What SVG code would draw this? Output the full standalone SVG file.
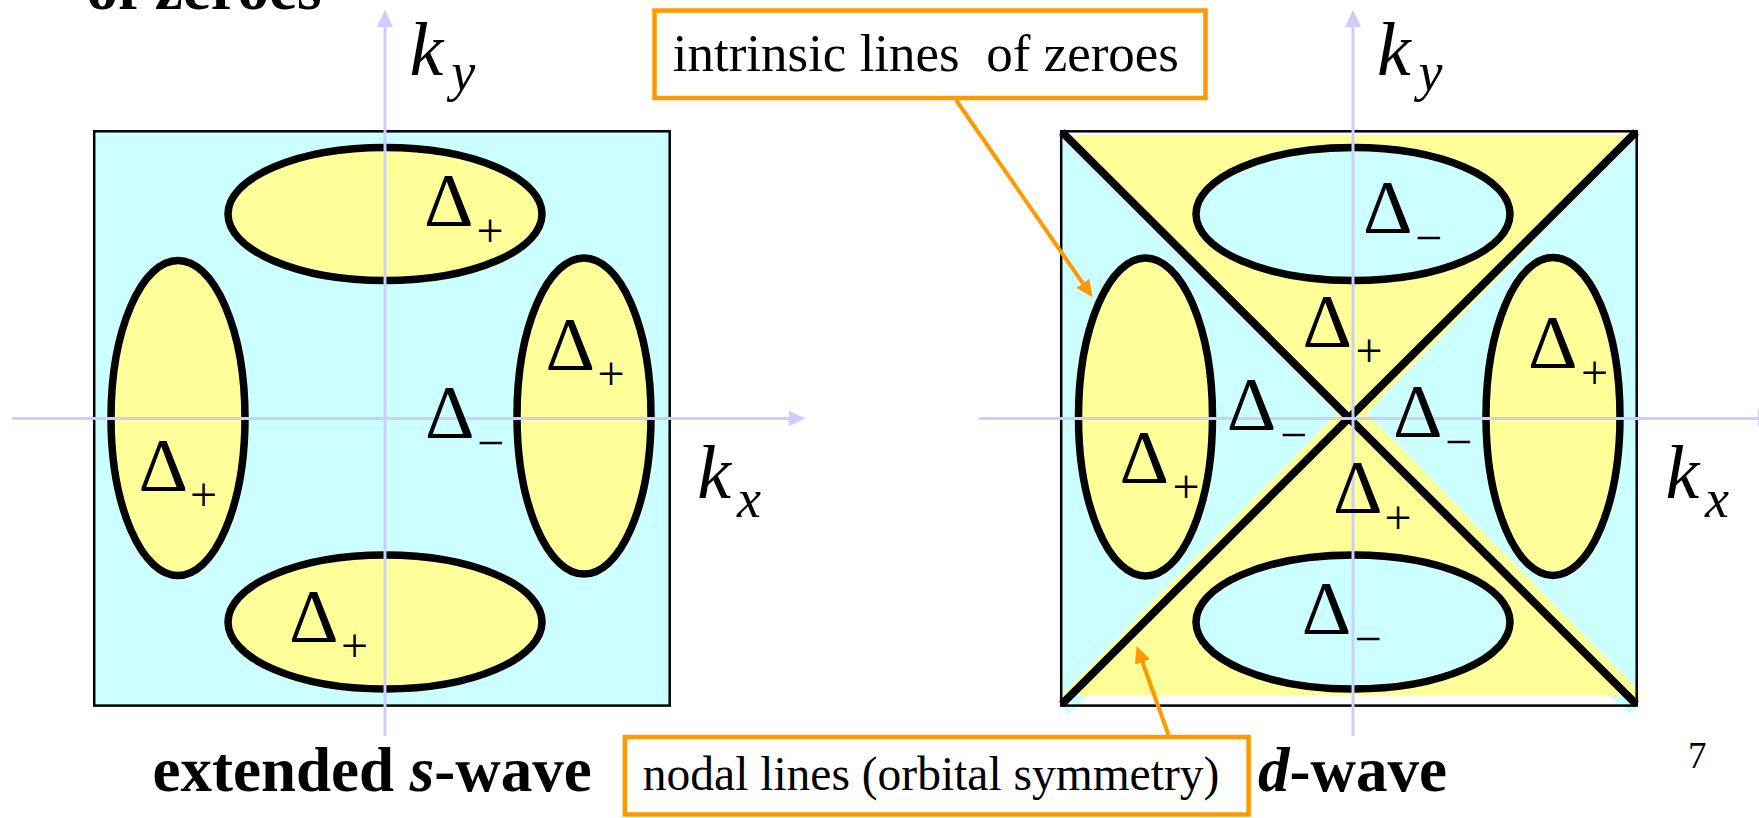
<svg xmlns="http://www.w3.org/2000/svg" width="1759" height="818" viewBox="0 0 1759 818">
<defs>
<style>
.ax{stroke:#ccccff;stroke-width:3;fill:none;marker-end:url(#la)}
.ell{stroke:#000;stroke-width:7.5}
.yl{fill:#ffff99}
.cy{fill:#ccffff}
.box{stroke:#000;stroke-width:2.5}
.diag{stroke:#000;stroke-width:8;stroke-linecap:butt}
.d{font-family:"Liberation Serif","Times New Roman",serif;font-size:77px;fill:#000}
.s{font-size:48px}
.k{font-family:"Liberation Serif","Times New Roman",serif;font-style:italic;font-size:76px;fill:#000}
.ks{font-size:54px}
.call{fill:#fff;stroke:#ff9900;stroke-width:4.5}
.ct{font-family:"Liberation Serif","Times New Roman",serif;fill:#000;white-space:pre}
.cl{stroke:#ff9900;stroke-width:4;fill:none;marker-end:url(#oa)}
.bt{font-family:"Liberation Serif","Times New Roman",serif;font-weight:bold;font-size:63px;fill:#000}
</style>
<marker id="la" markerUnits="userSpaceOnUse" markerWidth="18" markerHeight="16" refX="9" refY="8" orient="auto"><path d="M0,0 L17,8 L0,16 z" fill="#ccccff"/></marker>
<marker id="oa" markerUnits="userSpaceOnUse" markerWidth="18" markerHeight="16" refX="8" refY="8" orient="auto"><path d="M0,0 L17,8 L0,16 z" fill="#ff9900"/></marker>
</defs>
<rect width="1759" height="818" fill="#fff"/>

<text class="bt" x="86.5" y="9">of zeroes</text>

<g id="left-panel">
<rect class="box cy" x="94.2" y="131.3" width="575.5" height="574.3"/>
<ellipse class="ell yl" cx="385" cy="214" rx="157" ry="66.5"/>
<ellipse class="ell yl" cx="385" cy="622" rx="157" ry="67"/>
<ellipse class="ell yl" cx="178" cy="418" rx="67" ry="157.5"/>
<ellipse class="ell yl" cx="584" cy="416" rx="67" ry="158"/>
<line class="ax" x1="385" y1="736" x2="385" y2="18"/>
<line class="ax" x1="12" y1="418.4" x2="797.5" y2="418.4"/>
<text class="d" x="424" y="226">Δ<tspan class="s" x="476.5" y="247">+</tspan></text>
<text class="d" x="545.5" y="369.5">Δ<tspan class="s" x="597.5" y="390">+</tspan></text>
<text class="d" x="425" y="438">Δ<tspan class="s" x="477" y="459">−</tspan></text>
<text class="d" x="138.6" y="490.6">Δ<tspan class="s" x="190" y="511">+</tspan></text>
<text class="d" x="289" y="642">Δ<tspan class="s" x="341" y="662">+</tspan></text>
<text class="k" x="409.5" y="75">k<tspan class="ks" x="451.3" y="90">y</tspan></text>
<text class="k" x="697.2" y="498">k<tspan class="ks" x="737" y="517">x</tspan></text>
<text class="bt" x="152.5" y="791">extended <tspan font-style="italic">s</tspan>-wave</text>
</g>

<g id="right-panel">
<polygon class="cy" points="1061,131 1350,418 1079,705 1067,715 1061,706"/>
<polygon class="cy" points="1637,131 1350,418 1619,705 1630,714 1637,706"/>
<polygon class="yl" points="1062,135 1637,135 1352,428"/>
<polygon class="yl" points="1352,398 1643,695 1062,695"/>
<rect class="box" x="1061.2" y="131.3" width="575.5" height="574.3" fill="none"/>
<line class="diag" x1="1062" y1="132" x2="1636" y2="704"/>
<line class="diag" x1="1636" y1="132" x2="1062" y2="704"/>
<ellipse class="ell cy" cx="1353" cy="214" rx="157" ry="66.5"/>
<ellipse class="ell cy" cx="1353" cy="622" rx="157" ry="67"/>
<ellipse class="ell yl" cx="1145.5" cy="417" rx="67" ry="159"/>
<ellipse class="ell yl" cx="1553" cy="416.5" rx="67" ry="159"/>
<line class="ax" x1="1353" y1="736" x2="1353" y2="18"/>
<line class="ax" x1="979" y1="418.4" x2="1767" y2="418.4"/>
<text class="d" x="1363" y="233">Δ<tspan class="s" x="1415" y="254">−</tspan></text>
<text class="d" x="1302.6" y="347">Δ<tspan class="s" x="1355.5" y="367">+</tspan></text>
<text class="d" x="1528" y="368">Δ<tspan class="s" x="1581" y="389">+</tspan></text>
<text class="d" x="1226.7" y="430">Δ<tspan class="s" x="1280" y="451">−</tspan></text>
<text class="d" x="1393" y="437">Δ<tspan class="s" x="1445" y="458">−</tspan></text>
<text class="d" x="1119.5" y="483">Δ<tspan class="s" x="1172.6" y="503">+</tspan></text>
<text class="d" x="1333" y="513.3">Δ<tspan class="s" x="1384.6" y="534">+</tspan></text>
<text class="d" x="1301.7" y="634">Δ<tspan class="s" x="1354.5" y="655">−</tspan></text>
<text class="k" x="1377" y="75">k<tspan class="ks" x="1418.6" y="90">y</tspan></text>
<text class="k" x="1665.5" y="498">k<tspan class="ks" x="1705" y="517">x</tspan></text>
<text class="bt" x="1258" y="791"><tspan font-style="italic">d</tspan>-wave</text>
</g>

<g id="callout-intrinsic">
<rect class="call" x="654.5" y="10.5" width="551" height="87.5"/>
<text class="ct" x="672.7" y="70.7" font-size="53">intrinsic lines  of zeroes</text>
</g>

<g id="callout-nodal">
<rect class="call" x="624.8" y="737" width="623.8" height="77.5"/>
<text class="ct" x="642.8" y="790" font-size="47.5">nodal lines (orbital symmetry)</text>
</g>

<g id="connectors">
<line class="cl" x1="956" y1="100" x2="1087.4" y2="289.9"/>
<line class="cl" x1="1168.5" y1="735" x2="1139.7" y2="654.5"/>
</g>

<text class="ct" x="1688" y="768" font-size="37">7</text>
</svg>
